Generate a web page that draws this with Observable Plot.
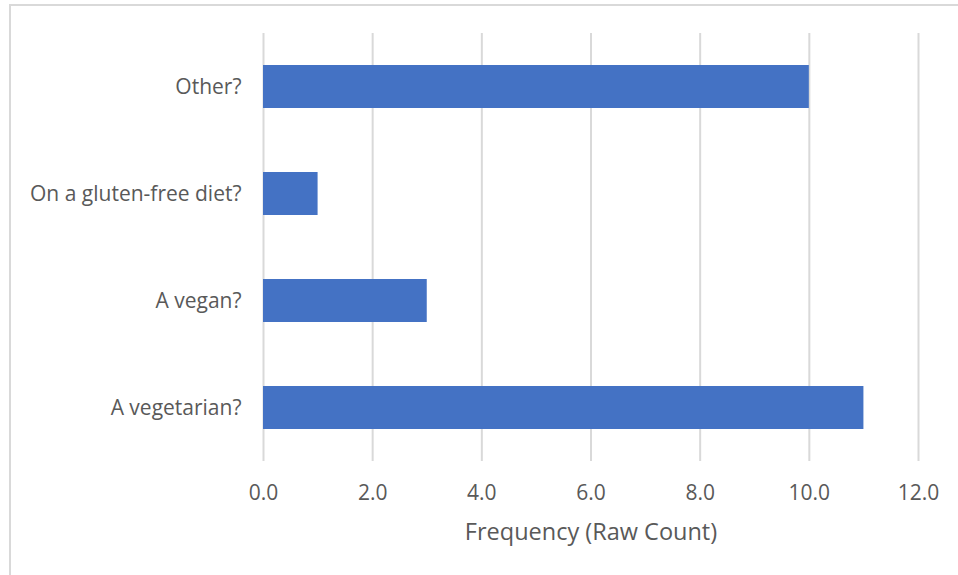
<!DOCTYPE html>
<html>
<head>
<meta charset="utf-8">
<script src="https://cdn.jsdelivr.net/npm/d3@7"></script>
<script src="https://cdn.jsdelivr.net/npm/@observablehq/plot@0.6"></script>
<style>
  html, body { margin: 0; padding: 0; background: #fff; }
  #wrap { position: relative; width: 958px; height: 575px; overflow: hidden; }
  #border { position: absolute; left: 9px; top: 4px; width: 1000px; height: 1000px; border: 2px solid #d9d9d9; box-sizing: border-box; }
  #chart { position: absolute; left: 0; top: 0; }
</style>
</head>
<body>
<div id="wrap"><div id="border"></div><div id="chart"></div></div>
<script>
const categories = ["Other?", "On a gluten-free diet?", "A vegan?", "A vegetarian?"];
const counts = [10, 1, 3, 11];
const xTicks = [0, 2, 4, 6, 8, 10, 12];
const xTitle = "Frequency (Raw Count)";

const data = categories.map((c, i) => ({category: c, count: counts[i]}));
const font = "Open Sans, sans-serif";

const chart = Plot.plot({
  width: 958,
  height: 575,
  marginLeft: 263,
  marginRight: 40,
  marginTop: 33,
  marginBottom: 114,
  style: {fontFamily: font, fontSize: "21px", color: "#595959", background: "transparent"},
  x: {domain: [0, 12], ticks: xTicks, tickFormat: d3.format(".1f")},
  y: {domain: categories, paddingInner: 0.6, paddingOuter: 0.3},
  marks: [
    Plot.gridX(xTicks, {stroke: "#d9d9d9", strokeOpacity: 1, strokeWidth: 2}),
    Plot.barX(data, {x: "count", y: "category", fill: "#4472c4"}),
    Plot.axisX({ticks: xTicks, tickFormat: d3.format(".1f"), tickSize: 0, tickPadding: 24, label: null, fontSize: 21, fill: "#595959"}),
    Plot.axisY({tickSize: 0, tickPadding: 22, label: null, fontSize: 21, fill: "#595959"}),
    Plot.text([xTitle], {frameAnchor: "bottom", text: d => d, dy: 78, fontSize: 23.5, fill: "#595959"})
  ]
});
document.getElementById("chart").appendChild(chart);
</script>
</body>
</html>
